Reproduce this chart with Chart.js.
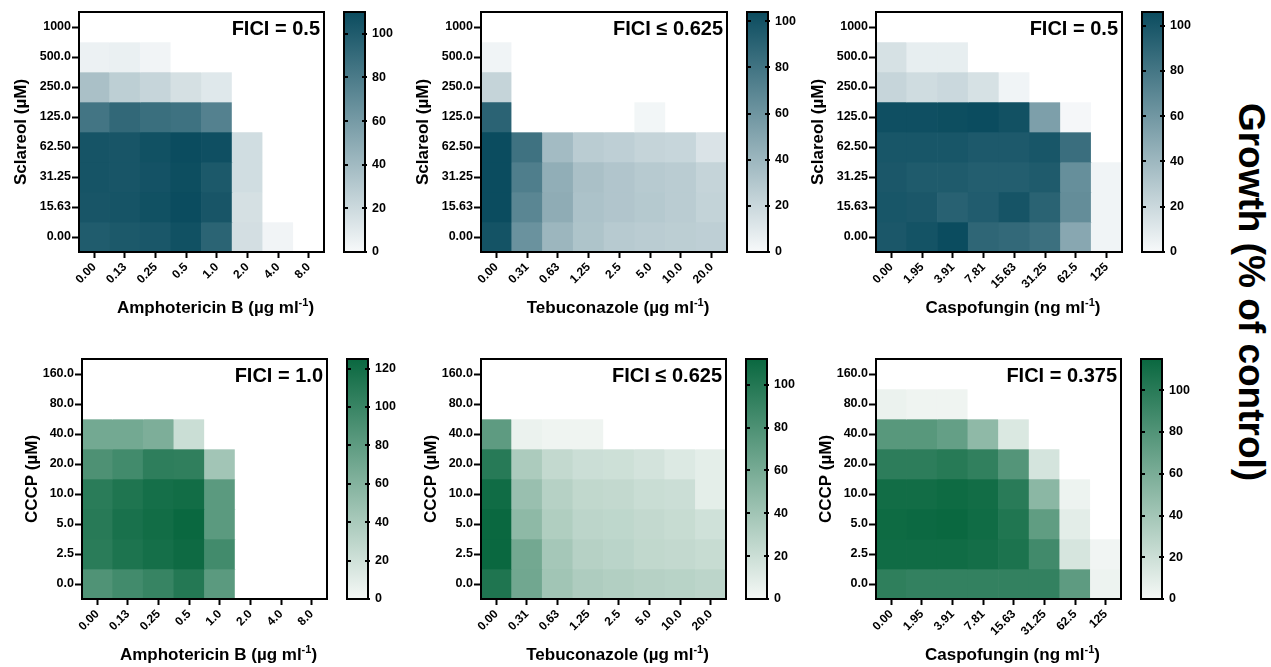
<!DOCTYPE html>
<html>
<head>
<meta charset="utf-8">
<script src="https://cdn.jsdelivr.net/npm/chart.js@4.4.1/dist/chart.umd.min.js"></script>
<style>
  html, body { margin: 0; padding: 0; background: #fff; width: 1271px; height: 667px; overflow: hidden; position: relative; font-family: 'Liberation Sans', Arial, Helvetica, sans-serif; }
  canvas { position: absolute; }
  #growth { position: absolute; left: 1251px; top: 292px; transform: translate(-50%, -50%) rotate(90deg); font-family: 'Liberation Sans', Arial, Helvetica, sans-serif; font-weight: bold; font-size: 37px; white-space: nowrap; color: #000; }
</style>
</head>
<body>
<div id="growth">Growth (% of control)</div>
<script>
// Antifungal concentrations (x tick labels)
const amphotericinB = ['0.00', '0.13', '0.25', '0.5', '1.0', '2.0', '4.0', '8.0'];
const tebuconazole  = ['0.00', '0.31', '0.63', '1.25', '2.5', '5.0', '10.0', '20.0'];
const caspofungin   = ['0.00', '1.95', '3.91', '7.81', '15.63', '31.25', '62.5', '125'];

// Adjuvant concentrations (y tick labels, top row first)
const sclareol = ['1000', '500.0', '250.0', '125.0', '62.50', '31.25', '15.63', '0.00'];
const cccp     = ['160.0', '80.0', '40.0', '20.0', '10.0', '5.0', '2.5', '0.0'];

// Growth (% of control); rows follow the y labels above, columns the x labels
const sclareolAmphoB = [
  [0, 0, 0, 0, 0, 0, 0, 0],
  [5, 6, 3, 0, 0, 0, 0, 0],
  [36, 27, 23, 16, 11, 0, 0, 0],
  [84, 92, 88, 86, 76, 0, 0, 0],
  [105, 104, 107, 110, 108, 18, 0, 0],
  [105, 104, 106, 109, 102, 18, 0, 0],
  [104, 105, 107, 110, 104, 16, 0, 0],
  [100, 102, 103, 107, 95, 17, 3, 0]
];
const sclareolTebu = [
  [0, 0, 0, 0, 0, 0, 0, 0],
  [3, 0, 0, 0, 0, 0, 0, 0],
  [22, 0, 0, 0, 0, 0, 0, 0],
  [90, 0, 0, 0, 0, 2, 0, 0],
  [104, 81, 37, 27, 25, 22, 21, 13],
  [104, 74, 45, 34, 31, 28, 27, 22],
  [104, 69, 46, 33, 31, 29, 27, 23],
  [100, 62, 40, 32, 28, 27, 26, 25]
];
const sclareolCaspo = [
  [0, 0, 0, 0, 0, 0, 0, 0],
  [15, 7, 7, 0, 0, 0, 0, 0],
  [22, 18, 20, 15, 3, 0, 0, 0],
  [104, 104, 105, 106, 103, 55, 1, 0],
  [100, 100, 100, 98, 98, 100, 85, 0],
  [99, 97, 97, 95, 95, 97, 65, 3],
  [100, 99, 93, 96, 101, 92, 66, 3],
  [99, 102, 106, 90, 88, 84, 50, 3]
];
const cccpAmphoB = [
  [0, 0, 0, 0, 0, 0, 0, 0],
  [0, 0, 0, 0, 0, 0, 0, 0],
  [69, 69, 64, 23, 0, 0, 0, 0],
  [89, 95, 106, 105, 44, 0, 0, 0],
  [108, 114, 119, 121, 82, 0, 0, 0],
  [109, 117, 121, 125, 82, 0, 0, 0],
  [108, 115, 119, 123, 95, 0, 0, 0],
  [88, 95, 101, 111, 82, 0, 0, 0]
];
const cccpTebu = [
  [0, 0, 0, 0, 0, 0, 0, 0],
  [0, 0, 0, 0, 0, 0, 0, 0],
  [72, 5, 3, 3, 0, 0, 0, 0],
  [98, 35, 24, 20, 19, 16, 12, 8],
  [109, 44, 30, 25, 24, 21, 20, 8],
  [112, 49, 33, 27, 26, 24, 22, 18],
  [112, 62, 38, 30, 28, 25, 24, 22],
  [102, 63, 40, 34, 32, 30, 29, 27]
];
const cccpCaspo = [
  [0, 0, 0, 0, 0, 0, 0, 0],
  [5, 3, 3, 0, 0, 0, 0, 0],
  [77, 77, 71, 50, 13, 0, 0, 0],
  [98, 98, 101, 96, 79, 16, 0, 0],
  [111, 111, 113, 111, 100, 52, 4, 0],
  [113, 114, 115, 112, 104, 73, 9, 0],
  [112, 112, 112, 110, 106, 88, 15, 2],
  [97, 95, 95, 95, 95, 95, 74, 4]
];

// Fractional inhibitory concentration index for each combination
const fici = ['FICI = 0.5', 'FICI \u2264 0.625', 'FICI = 0.5', 'FICI = 1.0', 'FICI \u2264 0.625', 'FICI = 0.375'];

const FONT = "'Liberation Sans', Arial, Helvetica, sans-serif";
Chart.defaults.font.family = FONT;
Chart.defaults.font.weight = 'bold';
Chart.defaults.color = '#000';

const TEAL  = { lo: [247, 249, 250], hi: [11, 76, 95] };
const GREEN = { lo: [245, 248, 246], hi: [10, 104, 64] };

function rgb(c) { return `rgb(${c.map(Math.round).join(',')})`; }
function cellColor(v, vmax, pal) {
  if (v <= 0) return '#ffffff';
  const t = Math.min(v / vmax, 1);
  return rgb(pal.lo.map((l, i) => l + (pal.hi[i] - l) * t));
}

// frame, FICI note and x title (with superscript) for each heatmap
const heatDeco = {
  id: 'heatDeco',
  afterDraw(chart, args, o) {
    const { ctx, chartArea: a } = chart;
    ctx.save();
    ctx.strokeStyle = '#000';
    ctx.lineWidth = 2;
    ctx.strokeRect(a.left, a.top, a.right - a.left, a.bottom - a.top);
    ctx.fillStyle = '#000';
    ctx.font = `bold 20px ${FONT}`;
    ctx.textAlign = 'right';
    ctx.textBaseline = 'alphabetic';
    ctx.fillText(o.fici, a.right - 4, a.top + 23);

    const main = `bold 17px ${FONT}`, small = `bold 11px ${FONT}`;
    const head = o.xTitle + ' (' + o.unit;
    ctx.font = main;
    const w1 = ctx.measureText(head).width, w3 = ctx.measureText(')').width;
    ctx.font = small;
    const w2 = ctx.measureText('-1').width;
    let x = (a.left + a.right) / 2 + 14 - (w1 + w2 + w3) / 2;
    const y = a.bottom + 61;
    ctx.textAlign = 'left';
    ctx.font = main;  ctx.fillText(head, x, y); x += w1;
    ctx.font = small; ctx.fillText('-1', x, y - 7); x += w2;
    ctx.font = main;  ctx.fillText(')', x, y);
    ctx.restore();
  }
};

// frame and inner tick dashes for each colour bar
const barDeco = {
  id: 'barDeco',
  afterDraw(chart) {
    const { ctx, chartArea: a } = chart;
    const y = chart.scales.y;
    ctx.save();
    ctx.strokeStyle = '#000';
    ctx.lineWidth = 2;
    ctx.strokeRect(a.left, a.top, a.right - a.left, a.bottom - a.top);
    ctx.beginPath();
    y.ticks.forEach(t => {
      const py = Math.round(y.getPixelForValue(t.value));
      ctx.moveTo(a.left, py); ctx.lineTo(a.left + 4, py);
      ctx.moveTo(a.right - 3, py); ctx.lineTo(a.right + 2, py);
    });
    ctx.stroke();
    ctx.restore();
  }
};

const panels = [
  { x: amphotericinB, y: sclareol, z: sclareolAmphoB, fici: fici[0], xTitle: 'Amphotericin B', unit: '\u00b5g ml', yTitle: 'Sclareol (\u00b5M)', pal: TEAL,  plot: [79, 12, 245, 240],  cb: 344,  yTitlePad: 12 },
  { x: tebuconazole,  y: sclareol, z: sclareolTebu,   fici: fici[1], xTitle: 'Tebuconazole',   unit: '\u00b5g ml', yTitle: 'Sclareol (\u00b5M)', pal: TEAL,  plot: [481, 12, 246, 240], cb: 747,  yTitlePad: 12 },
  { x: caspofungin,   y: sclareol, z: sclareolCaspo,  fici: fici[2], xTitle: 'Caspofungin',    unit: 'ng ml',      yTitle: 'Sclareol (\u00b5M)', pal: TEAL,  plot: [876, 12, 246, 240], cb: 1142, yTitlePad: 12 },
  { x: amphotericinB, y: cccp,     z: cccpAmphoB,     fici: fici[3], xTitle: 'Amphotericin B', unit: '\u00b5g ml', yTitle: 'CCCP (\u00b5M)',     pal: GREEN, plot: [82, 359, 245, 240], cb: 347,  yTitlePad: 20 },
  { x: tebuconazole,  y: cccp,     z: cccpTebu,       fici: fici[4], xTitle: 'Tebuconazole',   unit: '\u00b5g ml', yTitle: 'CCCP (\u00b5M)',     pal: GREEN, plot: [481, 359, 245, 240], cb: 746, yTitlePad: 20 },
  { x: caspofungin,   y: cccp,     z: cccpCaspo,      fici: fici[5], xTitle: 'Caspofungin',    unit: 'ng ml',      yTitle: 'CCCP (\u00b5M)',     pal: GREEN, plot: [876, 359, 245, 240], cb: 1141, yTitlePad: 20 }
];

function makeCanvas(left, top, w, h) {
  const c = document.createElement('canvas');
  c.width = w; c.height = h;
  c.style.left = left + 'px'; c.style.top = top + 'px';
  c.style.width = w + 'px'; c.style.height = h + 'px';
  document.body.appendChild(c);
  return c;
}

const Y_AXIS_W = 80, X_AXIS_H = 82, PAD_R = 8;

panels.forEach(p => {
  const [px, py, pw, ph] = p.plot;
  const nR = p.y.length;
  const vmax = Math.max(...p.z.flat());

  // heatmap: each row is a dataset of floating bars spanning one row band
  const datasets = p.z.map((row, r) => {
    const yi = nR - 1 - r;
    return {
      data: row.map(() => [yi - 0.5, yi + 0.5]),
      backgroundColor: row.map(v => cellColor(v, vmax, p.pal)),
      borderWidth: 0,
      grouped: false,
      barPercentage: 1,
      categoryPercentage: 1
    };
  });

  const hc = makeCanvas(px - Y_AXIS_W, py - 12, Y_AXIS_W + pw + PAD_R, 12 + ph + X_AXIS_H);
  new Chart(hc, {
    type: 'bar',
    data: { labels: p.x, datasets },
    plugins: [heatDeco],
    options: {
      responsive: false,
      animation: false,
      devicePixelRatio: 1,
      layout: { padding: { left: 0, top: 12, right: PAD_R, bottom: 0 } },
      plugins: {
        legend: { display: false },
        tooltip: { enabled: false },
        heatDeco: { fici: p.fici, xTitle: p.xTitle, unit: p.unit }
      },
      scales: {
        x: {
          type: 'category',
          offset: true,
          grid: { display: true, offset: false, drawOnChartArea: false, drawTicks: true, tickLength: 6, tickWidth: 2, tickColor: '#000' },
          border: { display: false },
          ticks: { autoSkip: false, maxRotation: 45, minRotation: 45, padding: 2, color: '#000', font: { size: 12, weight: 'bold' } },
          afterFit: s => { s.height = X_AXIS_H; s.paddingLeft = 0; s.paddingRight = 0; }
        },
        y: {
          type: 'linear',
          min: -0.5,
          max: nR - 0.5,
          grid: { display: true, drawOnChartArea: false, drawTicks: true, tickLength: 7, tickWidth: 2, tickColor: '#000' },
          border: { display: false },
          afterBuildTicks: s => { s.ticks = p.y.map((_, i) => ({ value: i })); },
          ticks: { padding: 1, color: '#000', font: { size: 12.5, weight: 'bold' }, callback: v => p.y[nR - 1 - v] },
          title: { display: true, text: p.yTitle, color: '#000', font: { size: 17, weight: 'bold' }, padding: { top: p.yTitlePad, bottom: 0 } },
          afterFit: s => { s.width = Y_AXIS_W; s.paddingTop = 0; s.paddingBottom = 0; }
        }
      }
    }
  });

  // colour bar: a single floating bar 0..max filled with the same ramp
  const CB_W = 21, CB_PAD_L = 2, CB_AXIS_W = 47;
  const bc = makeCanvas(p.cb - CB_PAD_L, py - 12, CB_PAD_L + CB_W + CB_AXIS_W, 12 + ph + 8);
  new Chart(bc, {
    type: 'bar',
    data: {
      labels: [''],
      datasets: [{
        data: [[0, vmax]],
        borderWidth: 0,
        barPercentage: 1,
        categoryPercentage: 1,
        backgroundColor: ctx => {
          const a = ctx.chart.chartArea;
          if (!a) return rgb(p.pal.hi);
          const g = ctx.chart.ctx.createLinearGradient(0, a.bottom, 0, a.top);
          g.addColorStop(0, rgb(p.pal.lo));
          g.addColorStop(1, rgb(p.pal.hi));
          return g;
        }
      }]
    },
    plugins: [barDeco],
    options: {
      responsive: false,
      animation: false,
      devicePixelRatio: 1,
      layout: { padding: { left: CB_PAD_L, top: 12, right: 0, bottom: 8 } },
      plugins: { legend: { display: false }, tooltip: { enabled: false } },
      scales: {
        x: { display: false, offset: true },
        y: {
          position: 'right',
          min: 0,
          max: vmax,
          grid: { display: false, drawTicks: false },
          border: { display: false },
          ticks: { stepSize: 20, includeBounds: false, padding: 7, color: '#000', font: { size: 12.5, weight: 'bold' } },
          afterFit: s => { s.width = CB_AXIS_W; s.paddingTop = 0; s.paddingBottom = 0; }
        }
      }
    }
  });
});
</script>
</body>
</html>
